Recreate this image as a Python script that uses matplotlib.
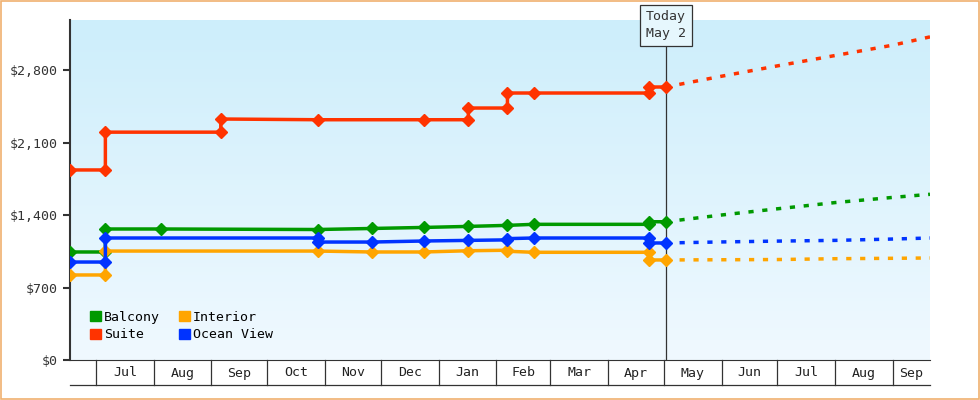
import matplotlib
matplotlib.use("Agg")
import matplotlib.pyplot as plt
import matplotlib.dates as mdates
import numpy as np
from datetime import date
from matplotlib.transforms import blended_transform_factory
from matplotlib.patches import Rectangle

plt.rcParams["font.family"] = "DejaVu Sans Mono"

def d(s):
    y, m, dd = s.split("-")
    return date(int(y), int(m), int(dd))

suite_dates = ["2023-06-17","2023-07-06","2023-07-06","2023-09-06","2023-09-06","2023-10-28","2023-12-24","2024-01-17","2024-01-17","2024-02-07","2024-02-07","2024-02-21","2024-04-23","2024-04-23","2024-05-02"]
suite_vals = [1835,1835,2200,2200,2327,2320,2320,2320,2433,2433,2578,2578,2578,2636,2636]
balcony_dates = ["2023-06-17","2023-07-06","2023-07-06","2023-08-05","2023-10-28","2023-11-26","2023-12-24","2024-01-17","2024-02-07","2024-02-21","2024-04-23","2024-04-23","2024-05-02"]
balcony_vals = [1043,1043,1265,1265,1260,1270,1280,1290,1300,1310,1310,1335,1335]
ocean_dates = ["2023-06-17","2023-07-06","2023-07-06","2023-10-28","2023-10-28","2023-11-26","2023-12-24","2024-01-17","2024-02-07","2024-02-07","2024-02-21","2024-04-23","2024-04-23","2024-05-02"]
ocean_vals = [946,946,1178,1178,1139,1139,1149,1155,1160,1172,1178,1178,1130,1130]
interior_dates = ["2023-06-17","2023-07-06","2023-07-06","2023-10-28","2023-11-26","2023-12-24","2024-01-17","2024-02-07","2024-02-07","2024-02-21","2024-04-23","2024-04-23","2024-05-02"]
interior_vals = [821,821,1052,1052,1043,1043,1055,1060,1050,1040,1040,966,966]

fc_dates = ["2024-05-02","2024-06-01","2024-07-01","2024-08-01","2024-09-01","2024-09-21"]
suite_fc = [2636,2740,2840,2940,3040,3120]
balcony_fc = [1335,1400,1460,1520,1570,1600]
ocean_fc = [1130,1140,1148,1155,1168,1178]
interior_fc = [966,968,970,978,982,985]

series = [("Balcony", "#009900", balcony_dates, balcony_vals, balcony_fc),
          ("Suite", "#ff3300", suite_dates, suite_vals, suite_fc),
          ("Interior", "#ffa500", interior_dates, interior_vals, interior_fc),
          ("Ocean View", "#0033ff", ocean_dates, ocean_vals, ocean_fc)]

yticks = [0, 700, 1400, 2100, 2800]
ytick_labels = ["$0", "$700", "$1,400", "$2,100", "$2,800"]
month_starts = ["2023-07-01","2023-08-01","2023-09-01","2023-10-01","2023-11-01","2023-12-01","2024-01-01","2024-02-01","2024-03-01","2024-04-01","2024-05-01","2024-06-01","2024-07-01","2024-08-01","2024-09-01"]
month_labels = ["Jul","Aug","Sep","Oct","Nov","Dec","Jan","Feb","Mar","Apr","May","Jun","Jul","Aug","Sep"]
today = "2024-05-02"

fig = plt.figure(figsize=(9.8, 4.0), dpi=100)
fig.patches.append(Rectangle((0.001, 0.002), 0.998, 0.996, transform=fig.transFigure,
                             fill=False, edgecolor="#f0b070", linewidth=1.2))
ax = fig.add_axes([70/980, 40/400, 860/980, 340/400])
xmin, xmax = mdates.date2num(d("2023-06-17")), mdates.date2num(d("2024-09-21"))
ax.set_xlim(xmin, xmax)
ax.set_ylim(0, 3283)

grad = np.linspace(0, 1, 256).reshape(-1, 1)
from matplotlib.colors import LinearSegmentedColormap
cmap = LinearSegmentedColormap.from_list("bg", ["#f0f9ff", "#cdeefb"])
ax.imshow(grad, cmap=cmap, aspect="auto", extent=[xmin, xmax, 0, 3283], origin="lower", zorder=0)

for name, c, ds, vs, fc in series:
    x = [mdates.date2num(d(s)) for s in ds]
    ax.plot(x, vs, color=c, lw=2.5, marker="D", ms=6, zorder=3)
    xf = [mdates.date2num(d(s)) for s in fc_dates]
    ax.plot(xf, fc, color=c, lw=2.5, ls=(0, (1.5, 2.5)), zorder=3)

tx = mdates.date2num(d(today))
ax.axvline(tx, color="#333333", lw=0.9, zorder=2)
ax.text(tx, 3230, "Today\nMay 2", ha="center", va="center", fontsize=9.5, color="#333333",
        linespacing=1.4, zorder=5,
        bbox=dict(boxstyle="square,pad=0.45", fc="#e6f7fd", ec="#333333", lw=0.9))

for s in ["top", "right"]:
    ax.spines[s].set_visible(False)
ax.spines["left"].set_color("#333333")
ax.spines["left"].set_linewidth(1.5)
ax.spines["bottom"].set_color("#333333")
ax.set_yticks(yticks)
ax.set_yticklabels(ytick_labels, fontsize=9.5, color="#333333")
ax.tick_params(axis="y", length=5, width=1.5, color="#333333")
ax.set_xticks([])

trans = blended_transform_factory(ax.transData, ax.transAxes)
for ms in month_starts:
    xm = mdates.date2num(d(ms))
    ax.plot([xm, xm], [0, -25/340], color="#333333", lw=0.9, transform=trans, clip_on=False)
ax.plot([xmin, xmax], [-25/340, -25/340], color="#333333", lw=0.9, transform=trans, clip_on=False)
edges = [mdates.date2num(d(s)) for s in month_starts] + [xmax]
for i, lab in enumerate(month_labels):
    ax.text((edges[i] + edges[i+1]) / 2, -13/340, lab, transform=trans, ha="center", va="center",
            fontsize=9.5, color="#222222")

handles = [Rectangle((0, 0), 1, 1, color=c) for _, c, _, _, _ in series]
ax.legend(handles, [s[0] for s in series], ncol=2, loc="lower left", bbox_to_anchor=(0.01, 0.02),
          frameon=False, fontsize=9.5, handlelength=0.8, handleheight=0.8, handletextpad=0.2,
          columnspacing=1.5, labelspacing=0.35)

fig.savefig("out.png", dpi=100)
